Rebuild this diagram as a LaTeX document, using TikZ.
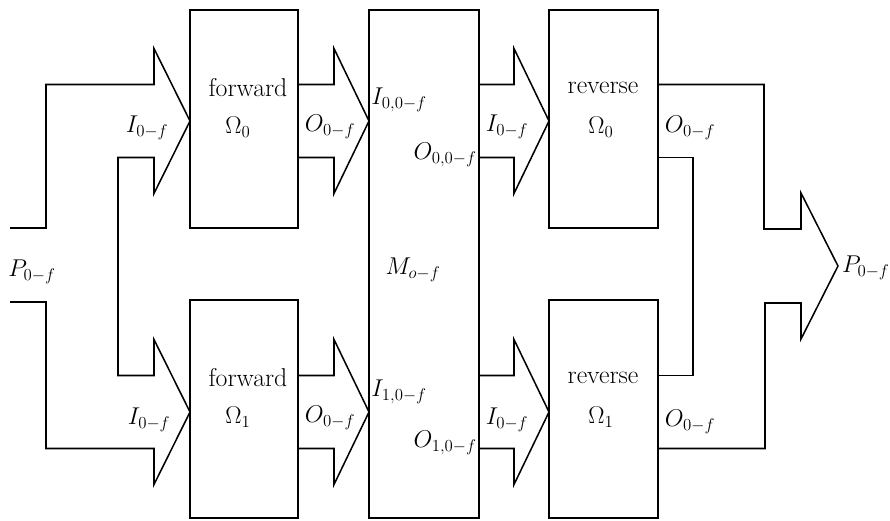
\documentclass[tikz,border=0pt]{standalone}
\begin{document}
\begin{tikzpicture}[x=0.03cm,y=-0.03cm,
  wire/.style={line width=1.3pt, line join=miter},
  unit/.style={draw, line width=1.3pt, anchor=north west, inner sep=0pt, outer sep=0pt},
  lbl/.style={inner sep=1pt, font=\fontsize{20}{24}\selectfont},
  caption/.style={inner sep=1pt, font=\fontsize{22}{26}\selectfont},
  pics/fat/.style={code={%
    \draw[wire] (-#1,-36.5) -- (-35,-36.5) -- (-35,-72.5) -- (0,0)
      -- (-35,72.5) -- (-35,36.5) -- (-#1,36.5);}}]
\useasboundingbox (0,0) rectangle (890,520);

% rows on which the fat arrows sit
\coordinate (row0) at (0,121);
\coordinate (row1) at (0,412);

% processing units
\node[unit, minimum width=3.24cm, minimum height=6.54cm] (f0) at (190,10) {};
\node[unit, minimum width=3.24cm, minimum height=6.54cm] (f1) at (190,300) {};
\node[unit, minimum width=3.30cm, minimum height=15.24cm] (m) at (369,10) {};
\node[unit, minimum width=3.27cm, minimum height=6.54cm] (r0) at (549,10) {};
\node[unit, minimum width=3.27cm, minimum height=6.54cm] (r1) at (549,300) {};

% unit captions
\node[caption] (f0t) at (248,88) {forward};
\node[caption] (f0o) at (238,127) {$\Omega_0$};
\node[caption] (f1t) at (248,378) {forward};
\node[caption] (f1o) at (238,417) {$\Omega_1$};
\node[caption] (r0t) at (603,88) {reverse};
\node[caption] (r0o) at (601,127) {$\Omega_0$};
\node[caption] (r1t) at (603,378) {reverse};
\node[caption] (r1o) at (601,417) {$\Omega_1$};
\node[lbl] (mt) at (413,270) {$M_{o-f}$};

% input split into the two forward units
\draw[wire] (10,228) -- (46,228) -- (46,84.5) -- (154,84.5) -- (154,48.5)
  -- (f0.west |- row0) -- (154,193.5) -- (154,157.5) -- (118,157.5)
  -- (118,375.5) -- (154,375.5) -- (154,339.5) -- (f1.west |- row1)
  -- (154,484.5) -- (154,448.5) -- (46,448.5) -- (46,302) -- (10,302);

% forward units into M, M into reverse units
\pic at (m.west |- row0) {fat=71};
\pic at (m.west |- row1) {fat=71};
\pic at (r0.west |- row0) {fat=70};
\pic at (r1.west |- row1) {fat=70};

% reverse units merged into the output
\coordinate (out) at (838,266);
\draw[wire] (r0.east |- 0,84.5) -- (764,84.5) -- (764,229) -- (801,229)
  -- (801,193) -- (out) -- (801,339) -- (801,303) -- (765,303)
  -- (765,448.5) -- (r1.east |- 0,448.5);
\draw[wire] (r0.east |- 0,157.5) -- (693,157.5) -- (693,375.5)
  -- (r1.east |- 0,375.5);

% signal labels
\node[lbl] (pin) at (32,272) {$P_{0-f}$};
\node[lbl] (i0) at (147,128) {$I_{0-f}$};
\node[lbl] (i1) at (149,420) {$I_{0-f}$};
\node[lbl] (o0) at (330,127) {$O_{0-f}$};
\node[lbl] (o1) at (330,418) {$O_{0-f}$};
\node[lbl, anchor=west] (mi0) at (370,100) {$I_{0,0-f}$};
\node[lbl, anchor=east] (mo0) at (478,155) {$O_{0,0-f}$};
\node[lbl, anchor=west] (mi1) at (370,392) {$I_{1,0-f}$};
\node[lbl, anchor=east] (mo1) at (478,443) {$O_{1,0-f}$};
\node[lbl] (ri0) at (507,127) {$I_{0-f}$};
\node[lbl] (ri1) at (507,420) {$I_{0-f}$};
\node[lbl] (ro0) at (690,128) {$O_{0-f}$};
\node[lbl] (ro1) at (690,422) {$O_{0-f}$};
\node[lbl, anchor=west, inner sep=0pt] (pout) at (842,268) {$P_{0-f}$};
\end{tikzpicture}
\end{document}
